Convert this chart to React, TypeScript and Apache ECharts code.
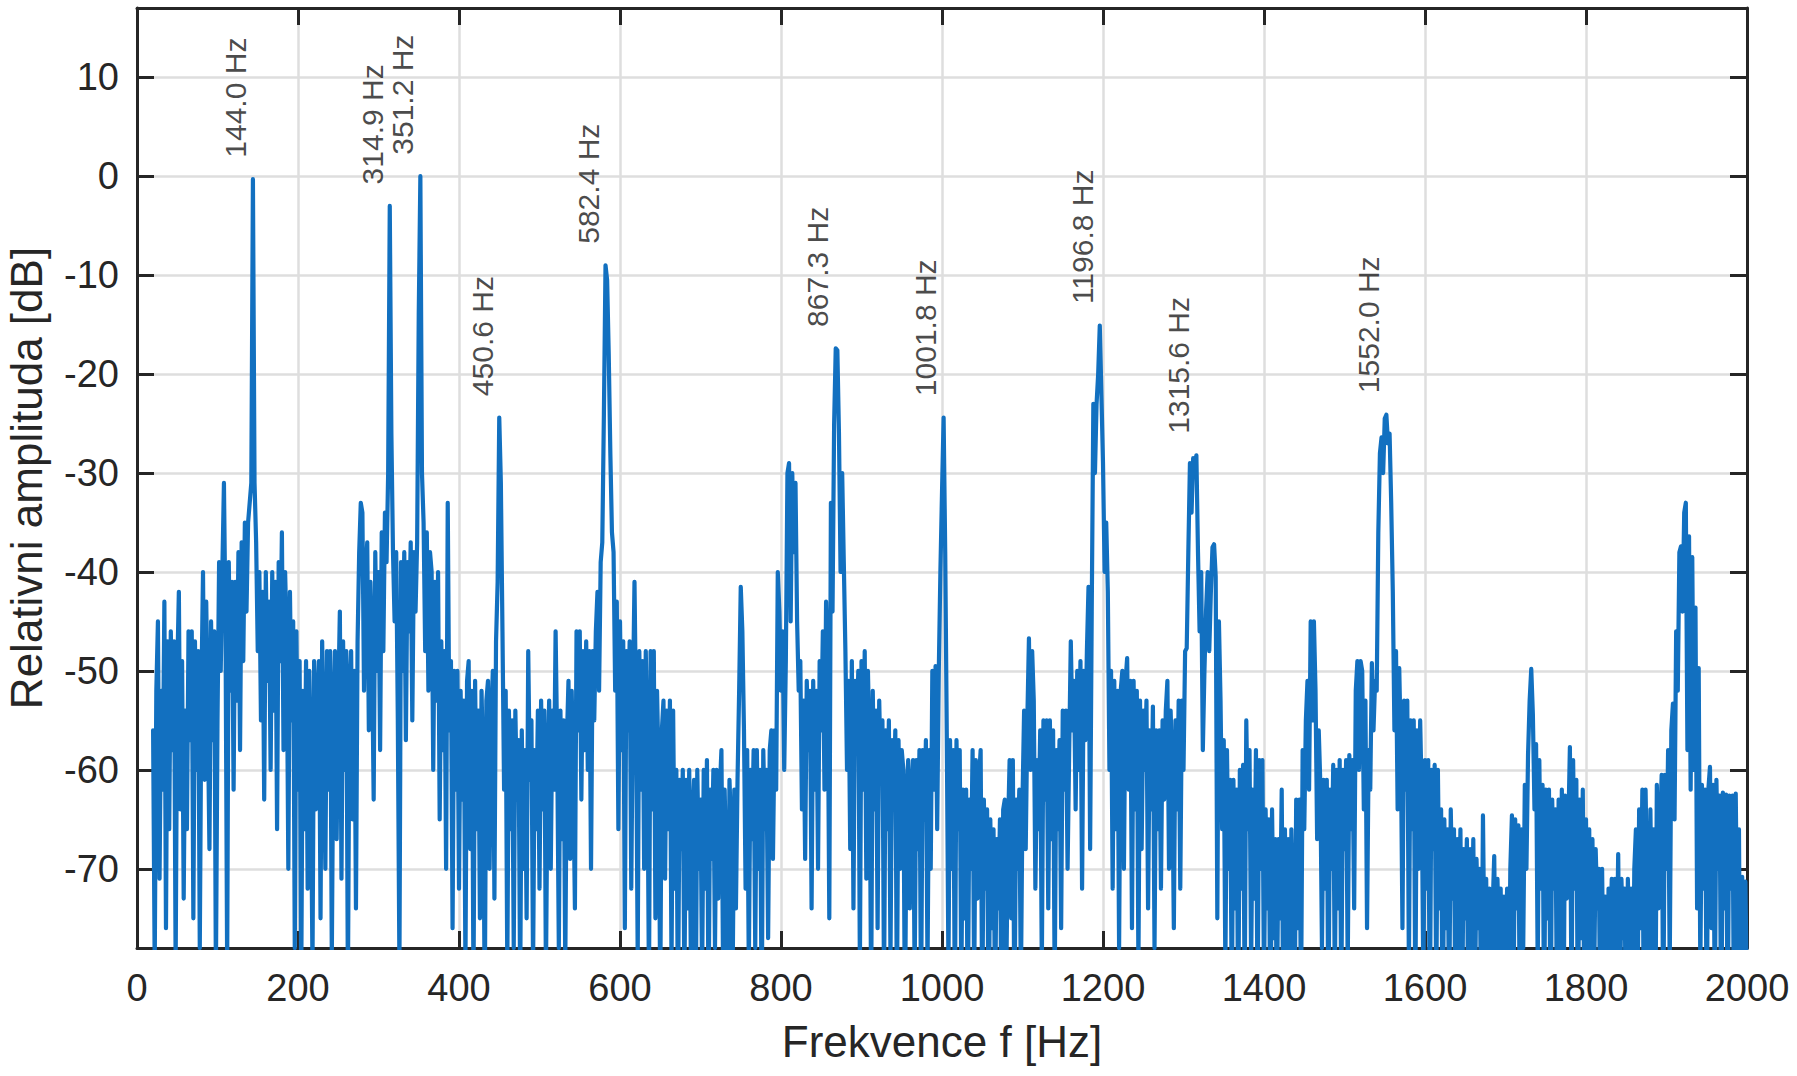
import React, { useEffect, useRef } from "react";
import * as echarts from "echarts";

// Sampling grid of the spectrum (Hz)
const F_START = 20;
const F_STEP = 2;

// Relative amplitude [dB] (2 Hz steps)
const DB_0020_0198 = [
  -56, -80, -52, -45, -71, -52, -62, -43, -76, -47,
  -66, -46, -58, -47, -80, -50, -42, -64, -49, -73,
  -54, -66, -46, -57, -46, -75, -47, -60, -48, -78,
  -52, -40, -61, -43, -55, -68, -45, -57, -46, -81,
  -55, -39, -50, -40, -31, -46, -80, -39, -52, -41,
  -62, -41, -53, -38, -58, -37, -49, -35, -44, -35,
  -33, -31, -0.3, -31, -37, -48, -40, -55, -42, -63,
  -40, -51, -43, -60, -40, -54, -41, -66, -39, -49,
  -36, -58, -40, -47, -70, -42, -55, -45, -78, -46,
];
const DB_0200_0398 = [
  -62, -49, -82, -52, -66, -49, -72, -50, -60, -80,
  -49, -64, -53, -49, -75, -47, -58, -70, -48, -62,
  -48, -79, -55, -48, -67, -53, -44, -71, -47, -60,
  -48, -82, -52, -48, -65, -50, -74, -47, -38, -33,
  -34, -52, -40, -37, -56, -41, -48, -63, -38, -50,
  -40, -58, -36, -48, -34, -39, -30, -3, -26, -38,
  -45, -38, -55, -80, -39, -50, -38, -57, -39, -46,
  -37, -55, -38, -44, -37, -14, 0, -30, -35, -48,
  -36, -52, -38, -40, -60, -41, -53, -40, -65, -47,
  -58, -48, -70, -33, -56, -49, -76, -50, -62, -50,
];
const DB_0400_0598 = [
  -72, -52, -63, -53, -80, -51, -49, -68, -52, -82,
  -51, -66, -54, -75, -52, -60, -84, -53, -51, -70,
  -55, -50, -73, -47, -41, -24.4, -31, -46, -62, -52,
  -80, -54, -66, -55, -78, -54, -63, -57, -82, -56,
  -70, -58, -75, -48, -61, -55, -80, -58, -66, -54,
  -72, -53, -64, -54, -81, -60, -53, -70, -54, -62,
  -46, -58, -78, -54, -67, -55, -80, -57, -51, -69,
  -52, -61, -74, -46, -56, -46, -63, -48, -58, -47,
  -60, -48, -70, -48, -55, -46, -42, -52, -39, -37,
  -24, -9, -10.5, -18, -28, -36, -38, -52, -43, -66,
];
const DB_0600_0798 = [
  -45, -58, -47, -76, -48, -56, -47, -72, -53, -41,
  -55, -79, -48, -62, -49, -70, -48, -58, -82, -48,
  -64, -48, -75, -52, -60, -83, -56, -53, -71, -54,
  -66, -53, -80, -54, -72, -60, -85, -61, -68, -60,
  -82, -61, -74, -60, -79, -65, -61, -86, -60, -70,
  -63, -81, -60, -72, -59, -84, -62, -69, -60, -78,
  -60, -73, -62, -58, -80, -62, -70, -85, -61, -66,
  -80, -62, -74, -61, -52, -41.5, -46, -56, -72, -58,
  -80, -60, -67, -58, -78, -58, -70, -60, -85, -58,
  -66, -60, -77, -58, -56, -69, -56, -62, -40, -44,
];
const DB_0800_0998 = [
  -52, -46, -60, -49, -30, -29, -45, -30, -38, -31,
  -45, -52, -49, -64, -53, -69, -51, -58, -52, -74,
  -51, -62, -52, -70, -49, -56, -46, -62, -43, -50,
  -75, -33, -44, -25, -17.4, -17.6, -26, -40, -30, -39,
  -48, -60, -51, -68, -49, -74, -51, -57, -50, -80,
  -49, -62, -48, -71, -50, -58, -83, -52, -64, -54,
  -76, -53, -61, -55, -82, -56, -66, -55, -79, -57,
  -63, -56, -84, -57, -70, -58, -60, -86, -63, -59,
  -74, -62, -59, -81, -59, -68, -58, -84, -58, -65,
  -57, -80, -58, -70, -50, -62, -49.5, -66, -50, -40,
];
const DB_1000_1198 = [
  -32, -24.4, -38, -57, -80, -57, -70, -58, -84, -57,
  -66, -58, -82, -62, -75, -62, -86, -63, -70, -58,
  -82, -59, -73, -61, -58, -85, -63, -72, -64, -88,
  -65, -76, -66, -84, -67, -74, -65, -88, -64, -63,
  -80, -66, -59, -75, -59, -86, -63, -70, -62, -82,
  -63, -54, -68, -55, -46.7, -60, -48, -53, -72, -59,
  -66, -56, -80, -55, -63, -55, -74, -55, -67, -56,
  -82, -58, -66, -57, -76, -54, -62, -54, -70, -58,
  -47, -56, -51, -64, -50, -60, -49, -72, -50, -57,
  -48, -41.5, -68, -44, -23, -30, -23, -20, -15.1, -22,
];
const DB_1200_1398 = [
  -29, -40, -35, -42, -60, -50, -72, -51, -66, -52,
  -78, -52, -50, -70, -51, -48.7, -62, -51, -76, -51,
  -64, -52, -80, -53, -68, -54, -60, -53, -74, -56,
  -64, -53.6, -78, -56, -66, -56, -72, -55, -63, -54,
  -51, -70, -54, -60, -76, -55, -64, -53, -72, -53,
  -60, -48, -47.7, -38, -29, -34, -28.5, -30, -28.2, -38,
  -46, -40, -58, -50, -44, -40, -48, -42, -37.5, -37.2,
  -40.5, -75, -45, -53, -66, -57, -80, -58, -70, -61,
  -84, -61, -74, -62, -86, -60, -72, -59.5, -83, -55,
  -66, -58, -80, -62, -73, -58, -85, -59, -70, -59,
];
const DB_1400_1598 = [
  -82, -64, -74, -65, -88, -64, -77, -67, -85, -67,
  -75, -62, -86, -66, -79, -67, -88, -66, -74, -85,
  -63, -76, -63, -84, -58, -66, -55, -51, -62, -45,
  -55, -45, -52, -67, -56, -61.5, -78, -61, -72, -61,
  -86, -62, -70, -59.5, -82, -60, -74, -59, -84, -60,
  -68, -59, -80, -58.5, -66, -59, -74, -52, -49, -60,
  -49, -50, -64, -53, -76, -58, -62, -49.2, -56, -51,
  -52, -36, -28, -26.4, -30, -24.5, -24.1, -27, -26, -33,
  -42, -56, -48, -64, -49.7, -58, -76, -53, -62, -53,
  -80, -55, -66, -55, -84, -56, -70, -55, -63, -82,
];
const DB_1600_1798 = [
  -59, -72, -59, -86, -60, -68, -59.5, -83, -60, -74,
  -64, -88, -65, -76, -66, -85, -64, -73, -66, -88,
  -67, -79, -66, -86, -68, -75, -67, -88, -68, -78,
  -67, -84, -69, -76, -70, -87, -64.6, -80, -71, -86,
  -72, -90, -74, -68.7, -84, -71, -78, -72, -88, -72.8,
  -80, -72, -86, -70, -64.6, -82, -65, -74, -65.6, -87,
  -66, -78, -61.5, -70, -58.5, -53, -49.8, -54.4, -64, -57.4,
  -80, -59, -72, -61.5, -86, -62, -75, -62, -88, -63,
  -72, -64, -85, -63, -78, -62, -87, -62.6, -73, -66,
  -57.7, -84, -59, -72, -61, -88, -63, -77, -62, -86,
];
const DB_1800_2000 = [
  -65, -79, -66, -90, -67, -82, -68, -74, -70, -89,
  -70, -84, -72.8, -90, -72, -78, -71, -88, -71, -80,
  -68.5, -86, -71, -77, -72, -90, -71, -80, -72, -88,
  -70, -66, -84, -64, -76, -62, -88, -62, -72, -85,
  -64, -78, -66, -89, -61.5, -74, -66, -60.5, -86, -60.5,
  -70, -58, -80, -56, -53.3, -65, -46, -52, -38, -37.4,
  -44, -34, -33, -58, -36.4, -62, -38.5, -60, -43.6, -74,
  -49.7, -80, -61.5, -72, -62, -86, -62, -59.7, -76, -61.5,
  -84, -61, -70, -62.6, -88, -62.3, -74, -62.5, -86, -62.6,
  -72, -62.6, -88, -62.4, -78, -66, -90, -70.8, -80, -71.3, -84,
];

// Axis ticks
const Y_TICKS = [-70, -60, -50, -40, -30, -20, -10, 0, 10];

// Annotated peaks
const PEAK_FREQS = [144.0, 314.9, 351.2, 450.6, 582.4, 867.3, 1001.8, 1196.8, 1315.6, 1552.0];
const PEAK_DB = [-0.3, -3, 0, -24.4, -9, -17.4, -24.4, -15.1, -28.2, -24.1];

const FONT = "'Liberation Sans', Arial, Helvetica, sans-serif";
const INK = "#262626";
const BLUE = "#1270c0";
const GRID = "#dedede";

export default function App() {
  const ref = useRef<HTMLDivElement>(null);

  useEffect(() => {
    if (!ref.current) return;
    const chart = echarts.init(ref.current, null, { renderer: "svg" });
    const db = [
      ...DB_0020_0198, ...DB_0200_0398, ...DB_0400_0598, ...DB_0600_0798, ...DB_0800_0998,
      ...DB_1000_1198, ...DB_1200_1398, ...DB_1400_1598, ...DB_1600_1798, ...DB_1800_2000,
    ];
    const lineData = db.map((v, i) => [F_START + i * F_STEP, v]);
    const peakData = PEAK_FREQS.map((f, i) => [f, PEAK_DB[i]]);

    const axisLineStyle = { color: INK, width: 3 };
    const option: any = {
      animation: false,
      backgroundColor: "#ffffff",
      grid: { left: 137, right: 50, top: 8, bottom: 128, containLabel: false, outerBoundsMode: "none" },
      xAxis: [
        {
          type: "value", min: 0, max: 2000, interval: 200, position: "bottom",
          axisLine: { show: true, onZero: false, lineStyle: axisLineStyle },
          axisTick: { show: true, inside: true, length: 17, lineStyle: axisLineStyle },
          axisLabel: {
            show: true, margin: 21, fontSize: 38, color: INK, fontFamily: FONT,
            formatter: (v: number) => String(v),
          },
          splitLine: { show: true, lineStyle: { color: GRID, width: 2.5 } },
          name: "Frekvence f [Hz]", nameLocation: "middle", nameGap: 71,
          nameTextStyle: { fontSize: 44, color: INK, fontFamily: FONT },
        },
        {
          type: "value", min: 0, max: 2000, interval: 200, position: "top",
          axisLine: { show: true, onZero: false, lineStyle: axisLineStyle },
          axisTick: { show: true, inside: true, length: 17, lineStyle: axisLineStyle },
          axisLabel: { show: false },
          splitLine: { show: false },
        },
      ],
      yAxis: [
        {
          type: "value", min: -78, max: 17, position: "left",
          axisLine: { show: true, onZero: false, lineStyle: axisLineStyle },
          axisTick: { show: true, inside: true, length: 17, lineStyle: axisLineStyle, customValues: Y_TICKS },
          axisLabel: {
            show: true, margin: 18, fontSize: 38, color: INK, fontFamily: FONT, customValues: Y_TICKS,
            formatter: (v: number) => String(v),
          },
          splitLine: { show: true, lineStyle: { color: GRID, width: 2.5 } },
          name: "Relativni amplituda [dB]", nameLocation: "middle", nameGap: 89,
          nameTextStyle: { fontSize: 44, color: INK, fontFamily: FONT },
        },
        {
          type: "value", min: -78, max: 17, position: "right",
          axisLine: { show: true, onZero: false, lineStyle: axisLineStyle },
          axisTick: { show: true, inside: true, length: 17, lineStyle: axisLineStyle, customValues: Y_TICKS },
          axisLabel: { show: false, customValues: Y_TICKS },
          splitLine: { show: false },
        },
      ],
      series: [
        {
          type: "line",
          xAxisIndex: 0, yAxisIndex: 0,
          data: lineData,
          showSymbol: false, symbol: "none",
          clip: true,
          lineStyle: { color: BLUE, width: 4.2, join: "round", cap: "round" },
          z: 3,
        },
        {
          type: "scatter",
          xAxisIndex: 0, yAxisIndex: 0,
          data: peakData,
          symbolSize: 1,
          itemStyle: { color: "rgba(0,0,0,0)" },
          silent: true,
          label: {
            show: true,
            formatter: (p: any) => `${p.value[0].toFixed(1)} Hz`,
            position: [-2, -21],
            rotate: 90,
            align: "left",
            verticalAlign: "bottom",
            fontSize: 30,
            color: "#1a1a1a",
            fontFamily: FONT,
          },
          z: 5,
        },
      ],
    };
    chart.setOption(option);
    return () => chart.dispose();
  }, []);

  return (
    <div
      ref={ref}
      style={{ position: "fixed", left: 0, top: 0, width: "1797px", height: "1076px", background: "#ffffff" }}
    />
  );
}
